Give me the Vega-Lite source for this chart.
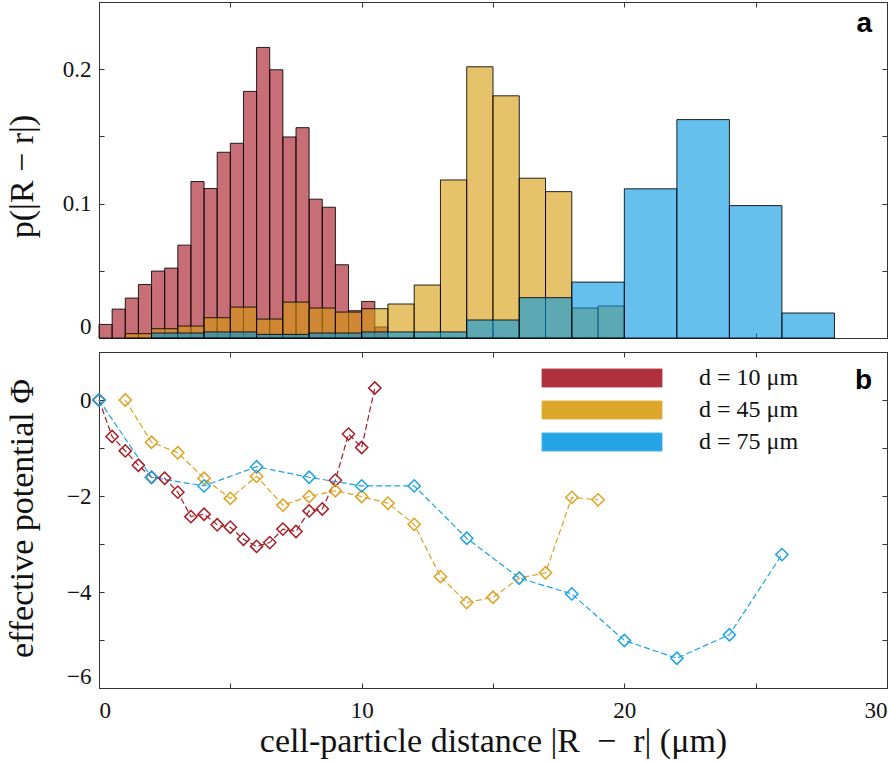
{
  "$schema": "https://vega.github.io/schema/vega-lite/v6.json",
  "padding": {"left": 4, "top": 1, "right": 3, "bottom": 5},
  "background": "white",
  "spacing": 12,
  "config": {
    "font": "Liberation Serif",
    "view": {"stroke": "#333333", "strokeWidth": 1},
    "axis": {
      "labelFont": "Liberation Serif", "titleFont": "Liberation Serif",
      "labelFontSize": 23, "titleFontSize": 34, "titleFontWeight": "normal",
      "labelColor": "#111111", "titleColor": "#111111",
      "domainColor": "#333333", "tickColor": "#333333", "tickSize": -5,
      "grid": false, "labelFlush": true, "labelOverlap": false,
      "minExtent": 0, "offset": 0
    },
    "axisLeft": {"labelPadding": 13},
    "axisBottom": {"labelPadding": 16}
  },
  "datasets": {
    "hist": [
      {"series": "d = 10 μm", "x0": 0, "x1": 0.5, "p": 0.0101},
      {"series": "d = 10 μm", "x0": 0.5, "x1": 1, "p": 0.0215},
      {"series": "d = 10 μm", "x0": 1, "x1": 1.5, "p": 0.0297},
      {"series": "d = 10 μm", "x0": 1.5, "x1": 2, "p": 0.0398},
      {"series": "d = 10 μm", "x0": 2, "x1": 2.5, "p": 0.0498},
      {"series": "d = 10 μm", "x0": 2.5, "x1": 3, "p": 0.052},
      {"series": "d = 10 μm", "x0": 3, "x1": 3.5, "p": 0.0691},
      {"series": "d = 10 μm", "x0": 3.5, "x1": 4, "p": 0.1164},
      {"series": "d = 10 μm", "x0": 4, "x1": 4.5, "p": 0.1112},
      {"series": "d = 10 μm", "x0": 4.5, "x1": 5, "p": 0.1382},
      {"series": "d = 10 μm", "x0": 5, "x1": 5.5, "p": 0.1449},
      {"series": "d = 10 μm", "x0": 5.5, "x1": 6, "p": 0.1835},
      {"series": "d = 10 μm", "x0": 6, "x1": 6.5, "p": 0.2162},
      {"series": "d = 10 μm", "x0": 6.5, "x1": 7, "p": 0.1996},
      {"series": "d = 10 μm", "x0": 7, "x1": 7.5, "p": 0.1496},
      {"series": "d = 10 μm", "x0": 7.5, "x1": 8, "p": 0.1565},
      {"series": "d = 10 μm", "x0": 8, "x1": 8.5, "p": 0.1033},
      {"series": "d = 10 μm", "x0": 8.5, "x1": 9, "p": 0.0973},
      {"series": "d = 10 μm", "x0": 9, "x1": 9.5, "p": 0.0545},
      {"series": "d = 10 μm", "x0": 9.5, "x1": 10, "p": 0.0203},
      {"series": "d = 10 μm", "x0": 10, "x1": 10.5, "p": 0.0272},
      {"series": "d = 10 μm", "x0": 10.5, "x1": 11, "p": 0.0082},
      {"series": "d = 45 μm", "x0": 1, "x1": 2, "p": 0.0032},
      {"series": "d = 45 μm", "x0": 2, "x1": 3, "p": 0.0069},
      {"series": "d = 45 μm", "x0": 3, "x1": 4, "p": 0.0089},
      {"series": "d = 45 μm", "x0": 4, "x1": 5, "p": 0.0151},
      {"series": "d = 45 μm", "x0": 5, "x1": 6, "p": 0.023},
      {"series": "d = 45 μm", "x0": 6, "x1": 7, "p": 0.0141},
      {"series": "d = 45 μm", "x0": 7, "x1": 8, "p": 0.0267},
      {"series": "d = 45 μm", "x0": 8, "x1": 9, "p": 0.0223},
      {"series": "d = 45 μm", "x0": 9, "x1": 10, "p": 0.0193},
      {"series": "d = 45 μm", "x0": 10, "x1": 11, "p": 0.0218},
      {"series": "d = 45 μm", "x0": 11, "x1": 12, "p": 0.0253},
      {"series": "d = 45 μm", "x0": 12, "x1": 13, "p": 0.0394},
      {"series": "d = 45 μm", "x0": 13, "x1": 14, "p": 0.1176},
      {"series": "d = 45 μm", "x0": 14, "x1": 15, "p": 0.2018},
      {"series": "d = 45 μm", "x0": 15, "x1": 16, "p": 0.1802},
      {"series": "d = 45 μm", "x0": 16, "x1": 17, "p": 0.1189},
      {"series": "d = 45 μm", "x0": 17, "x1": 18, "p": 0.1089},
      {"series": "d = 45 μm", "x0": 18, "x1": 19, "p": 0.0223},
      {"series": "d = 45 μm", "x0": 19, "x1": 20, "p": 0.0238},
      {"series": "d = 75 μm", "x0": 2, "x1": 4, "p": 0.0037},
      {"series": "d = 75 μm", "x0": 4, "x1": 6, "p": 0.0045},
      {"series": "d = 75 μm", "x0": 6, "x1": 8, "p": 0.0027},
      {"series": "d = 75 μm", "x0": 8, "x1": 10, "p": 0.0037},
      {"series": "d = 75 μm", "x0": 10, "x1": 12, "p": 0.0045},
      {"series": "d = 75 μm", "x0": 12, "x1": 14, "p": 0.0045},
      {"series": "d = 75 μm", "x0": 14, "x1": 16, "p": 0.0134},
      {"series": "d = 75 μm", "x0": 16, "x1": 18, "p": 0.030},
      {"series": "d = 75 μm", "x0": 18, "x1": 20, "p": 0.0416},
      {"series": "d = 75 μm", "x0": 20, "x1": 22, "p": 0.111},
      {"series": "d = 75 μm", "x0": 22, "x1": 24, "p": 0.1625},
      {"series": "d = 75 μm", "x0": 24, "x1": 26, "p": 0.0985},
      {"series": "d = 75 μm", "x0": 26, "x1": 28, "p": 0.0186}
    ],
    "pot": [
      {"series": "d = 10 μm", "x": 0, "phi": 0},
      {"series": "d = 10 μm", "x": 0.5, "phi": -0.76},
      {"series": "d = 10 μm", "x": 1, "phi": -1.06},
      {"series": "d = 10 μm", "x": 1.5, "phi": -1.36},
      {"series": "d = 10 μm", "x": 2, "phi": -1.61},
      {"series": "d = 10 μm", "x": 2.5, "phi": -1.63},
      {"series": "d = 10 μm", "x": 3, "phi": -1.92},
      {"series": "d = 10 μm", "x": 3.5, "phi": -2.43},
      {"series": "d = 10 μm", "x": 4, "phi": -2.38},
      {"series": "d = 10 μm", "x": 4.5, "phi": -2.6},
      {"series": "d = 10 μm", "x": 5, "phi": -2.65},
      {"series": "d = 10 μm", "x": 5.5, "phi": -2.9},
      {"series": "d = 10 μm", "x": 6, "phi": -3.05},
      {"series": "d = 10 μm", "x": 6.5, "phi": -2.97},
      {"series": "d = 10 μm", "x": 7, "phi": -2.69},
      {"series": "d = 10 μm", "x": 7.5, "phi": -2.74},
      {"series": "d = 10 μm", "x": 8, "phi": -2.31},
      {"series": "d = 10 μm", "x": 8.5, "phi": -2.27},
      {"series": "d = 10 μm", "x": 9, "phi": -1.67},
      {"series": "d = 10 μm", "x": 9.5, "phi": -0.71},
      {"series": "d = 10 μm", "x": 10, "phi": -0.99},
      {"series": "d = 10 μm", "x": 10.5, "phi": 0.25},
      {"series": "d = 45 μm", "x": 1, "phi": 0},
      {"series": "d = 45 μm", "x": 2, "phi": -0.88},
      {"series": "d = 45 μm", "x": 3, "phi": -1.1},
      {"series": "d = 45 μm", "x": 4, "phi": -1.63},
      {"series": "d = 45 μm", "x": 5, "phi": -2.05},
      {"series": "d = 45 μm", "x": 6, "phi": -1.59},
      {"series": "d = 45 μm", "x": 7, "phi": -2.19},
      {"series": "d = 45 μm", "x": 8, "phi": -2.01},
      {"series": "d = 45 μm", "x": 9, "phi": -1.89},
      {"series": "d = 45 μm", "x": 10, "phi": -2.01},
      {"series": "d = 45 μm", "x": 11, "phi": -2.15},
      {"series": "d = 45 μm", "x": 12, "phi": -2.59},
      {"series": "d = 45 μm", "x": 13, "phi": -3.68},
      {"series": "d = 45 μm", "x": 14, "phi": -4.22},
      {"series": "d = 45 μm", "x": 15, "phi": -4.11},
      {"series": "d = 45 μm", "x": 16, "phi": -3.71},
      {"series": "d = 45 μm", "x": 17, "phi": -3.6},
      {"series": "d = 45 μm", "x": 18, "phi": -2.03},
      {"series": "d = 45 μm", "x": 19, "phi": -2.08},
      {"series": "d = 75 μm", "x": 0, "phi": 0},
      {"series": "d = 75 μm", "x": 2, "phi": -1.61},
      {"series": "d = 75 μm", "x": 4, "phi": -1.79},
      {"series": "d = 75 μm", "x": 6, "phi": -1.39},
      {"series": "d = 75 μm", "x": 8, "phi": -1.61},
      {"series": "d = 75 μm", "x": 10, "phi": -1.79},
      {"series": "d = 75 μm", "x": 12, "phi": -1.79},
      {"series": "d = 75 μm", "x": 14, "phi": -2.88},
      {"series": "d = 75 μm", "x": 16, "phi": -3.71},
      {"series": "d = 75 μm", "x": 18, "phi": -4.04},
      {"series": "d = 75 μm", "x": 20, "phi": -5.01},
      {"series": "d = 75 μm", "x": 22, "phi": -5.38},
      {"series": "d = 75 μm", "x": 24, "phi": -4.89},
      {"series": "d = 75 μm", "x": 26, "phi": -3.22}
    ]
  },
  "vconcat": [
    {
      "width": 788,
      "height": 336,
      "layer": [
        {
          "data": {"name": "hist"},
          "mark": {"type": "bar", "fillOpacity": 0.6, "stroke": "#000000", "strokeOpacity": 0.85, "strokeWidth": 1},
          "encoding": {
            "x": {"field": "x0", "type": "quantitative", "scale": {"domain": [0, 30], "nice": false},
              "axis": {"orient": "bottom", "values": [0, 5, 10, 15, 20, 25, 30], "labels": false, "title": null}},
            "x2": {"field": "x1"},
            "y": {"field": "p", "type": "quantitative", "stack": null, "scale": {"domain": [0, 0.25], "nice": false},
              "axis": {"orient": "left", "values": [0, 0.05, 0.1, 0.15, 0.2, 0.25],
                "labelExpr": "datum.value == 0 ? '0' : datum.value == 0.1 ? '0.1' : datum.value == 0.2 ? '0.2' : ''",
                "title": "p(|R − r|)", "titleAngle": -90, "titleBaseline": "alphabetic", "titleX": -67, "titleY": 174}},
            "y2": {"datum": 0},
            "fill": {"field": "series", "type": "nominal",
              "scale": {"domain": ["d = 10 μm", "d = 45 μm", "d = 75 μm"], "range": ["#A30E1C", "#D59908", "#0096E3"]},
              "legend": {"orient": "none", "legendX": 491, "legendY": 364, "title": null,
                "symbolType": "M-8,-1.2H8V1.2H-8Z", "symbolSize": 225, "symbolOpacity": 0.85,
                "symbolStrokeColor": "#000000", "symbolStrokeWidth": 1,
                "labelFont": "Liberation Serif", "labelFontSize": 24, "labelColor": "#111111",
                "labelOffset": 85, "rowPadding": 8,
                "encode": {"symbols": {"update": {"stroke": {"value": "#222222"}, "strokeWidth": {"value": 1}, "strokeOpacity": {"value": 0.9}}}}}}
          }
        },
        {
          "data": {"name": "hist"},
          "mark": {"type": "point", "opacity": 0},
          "encoding": {
            "x": {"field": "x0", "type": "quantitative", "scale": {"domain": [0, 30], "nice": false},
              "axis": {"orient": "top", "values": [0, 5, 10, 15, 20, 25, 30], "labels": false, "title": null}},
            "y": {"field": "p", "type": "quantitative", "scale": {"domain": [0, 0.25], "nice": false},
              "axis": {"orient": "right", "values": [0, 0.05, 0.1, 0.15, 0.2, 0.25], "labels": false, "title": null}}
          }
        },
        {
          "data": {"values": [{}]},
          "mark": {"type": "text", "font": "Liberation Sans", "fontWeight": "bold", "fontSize": 28, "align": "right", "baseline": "alphabetic", "color": "#000000"},
          "encoding": {
            "x": {"datum": 29.43, "type": "quantitative", "axis": null},
            "y": {"datum": 0.2277, "type": "quantitative", "axis": null},
            "text": {"value": "a"}
          }
        }
      ],
      "resolve": {"axis": {"x": "independent", "y": "independent"}}
    },
    {
      "width": 788,
      "height": 336,
      "layer": [
        {
          "data": {"name": "pot"},
          "mark": {"type": "line", "strokeDash": [6, 3], "strokeWidth": 1.2},
          "encoding": {
            "x": {"field": "x", "type": "quantitative", "scale": {"domain": [0, 30], "nice": false},
              "axis": {"orient": "bottom", "values": [0, 5, 10, 15, 20, 25, 30],
                "labelExpr": "datum.value % 10 == 0 ? datum.label : ''",
                "title": "cell-particle distance |R\u2002−\u2002r| (μm)", "titleY": 63, "titleBaseline": "alphabetic"}},
            "y": {"field": "phi", "type": "quantitative", "scale": {"domain": [-6, 1], "nice": false},
              "axis": {"orient": "left", "values": [-6, -5, -4, -3, -2, -1, 0, 1],
                "labelExpr": "datum.value % 2 == 0 && datum.value <= 0 ? datum.label : ''",
                "title": "effective potential Φ", "titleAngle": -90, "titleBaseline": "alphabetic", "titleX": -67, "titleY": 166}},
            "stroke": {"field": "series", "type": "nominal",
              "scale": {"domain": ["d = 10 μm", "d = 45 μm", "d = 75 μm"], "range": ["#A81E26", "#DFA21F", "#1BA3E6"]},
              "legend": null}
          }
        },
        {
          "data": {"name": "pot"},
          "mark": {"type": "point", "shape": "diamond", "filled": false, "size": 150, "strokeWidth": 1.5, "opacity": 1},
          "encoding": {
            "x": {"field": "x", "type": "quantitative", "scale": {"domain": [0, 30], "nice": false},
              "axis": {"orient": "top", "values": [0, 5, 10, 15, 20, 25, 30], "labels": false, "title": null}},
            "y": {"field": "phi", "type": "quantitative", "scale": {"domain": [-6, 1], "nice": false},
              "axis": {"orient": "right", "values": [-6, -5, -4, -3, -2, -1, 0, 1], "labels": false, "title": null}},
            "stroke": {"field": "series", "type": "nominal", "legend": null}
          }
        },
        {
          "data": {"values": [{}]},
          "mark": {"type": "text", "font": "Liberation Sans", "fontWeight": "bold", "fontSize": 28, "align": "right", "baseline": "alphabetic", "color": "#000000"},
          "encoding": {
            "x": {"datum": 29.43, "type": "quantitative", "axis": null},
            "y": {"datum": 0.235, "type": "quantitative", "axis": null},
            "text": {"value": "b"}
          }
        }
      ],
      "resolve": {"axis": {"x": "independent", "y": "independent"}}
    }
  ]
}
